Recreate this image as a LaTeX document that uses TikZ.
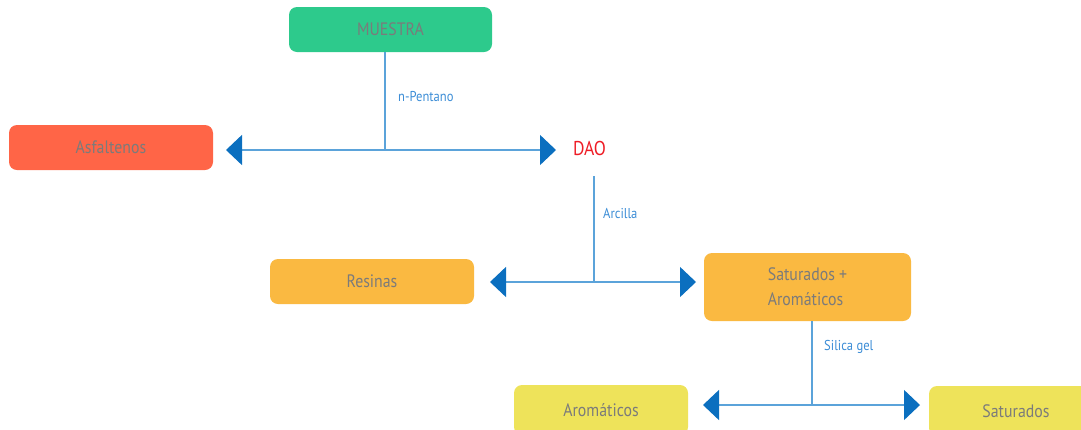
\documentclass[tikz,border=0pt]{standalone}
\usepackage{fontspec}
\setmainfont[FakeStretch=0.88]{PT Sans}
\usetikzlibrary{arrows.meta}
\definecolor{boxgreen}{HTML}{2DCA8C}
\definecolor{boxred}{HTML}{FF6547}
\definecolor{boxorange}{HTML}{FAB941}
\definecolor{boxyellow}{HTML}{EEE35A}
\definecolor{txtgray}{HTML}{7B7B7B}
\definecolor{linecol}{HTML}{5BA3DA}
\definecolor{tipcol}{HTML}{0B6FBF}
\definecolor{daored}{HTML}{EE1C25}
\definecolor{lblblue}{HTML}{3C8DD6}
\begin{document}
\begin{tikzpicture}[x=1pt,y=-1pt,
  box/.style={rounded corners=8pt, inner sep=0pt, text=txtgray,
    font=\fontsize{18}{25}\selectfont},
  lbl/.style={text=lblblue, anchor=west, inner sep=0pt,
    font=\fontsize{14.3}{17}\selectfont},
  stem/.style={draw=linecol, line width=1.2pt},
  link/.style={draw=linecol, line width=1.3pt,
    {Triangle[length=16pt,width=30pt,color=tipcol]}-{Triangle[length=16pt,width=30pt,color=tipcol]}}]
\useasboundingbox (0,0) rectangle (1081,429);
\clip (0,0) rectangle (1081,429);

% boxes
\node[box, fill=boxgreen, minimum width=203pt, minimum height=45pt] (muestra) at (390.5,29.5) {MUESTRA};
\node[box, fill=boxred, minimum width=204pt, minimum height=45pt] (asf) at (111,147.5) {Asfaltenos};
\node[text=daored, inner sep=0pt, font=\fontsize{20}{24}\selectfont] (dao) at (589.5,148) {DAO};
\node[box, fill=boxorange, minimum width=204pt, minimum height=45pt] (res) at (372,281.5) {Resinas};
\node[box, fill=boxorange, minimum width=207pt, minimum height=68pt, align=left] (satar) at (807.5,287) {Saturados +\\Aromáticos};
\node[box, fill=boxyellow, minimum width=174pt, minimum height=50pt] (aro) at (601,410) {Aromáticos};
\node[box, fill=boxyellow, minimum width=174pt, minimum height=50pt] (sat) at (1016,411) {Saturados};

% junction points and arrow ends
\coordinate (j1) at (385,150);
\coordinate (l1) at (226,150);
\coordinate (r1) at (556,150);
\coordinate (d1) at (594,176);
\coordinate (j2) at (594,281);
\coordinate (l2) at (490,282);
\coordinate (r2) at (696,282);
\coordinate (j3) at (812,405);
\coordinate (l3) at (703,405);
\coordinate (r3) at (920,405);

% stems
\draw[stem] (muestra.south -| j1) -- (j1);
\draw[stem] (d1) -- (j2);
\draw[stem] (satar.south -| j3) -- (j3);

% split arrows
\draw[link] (l1) -- (r1);
\draw[link] (l2) -- (r2);
\draw[link] (l3) -- (r3);

% reagent labels
\node[lbl] (np) at (398,97) {n-Pentano};
\node[lbl] (arc) at (603,213) {Arcilla};
\node[lbl] (sil) at (824,347) {Silica gel};
\end{tikzpicture}
\end{document}
